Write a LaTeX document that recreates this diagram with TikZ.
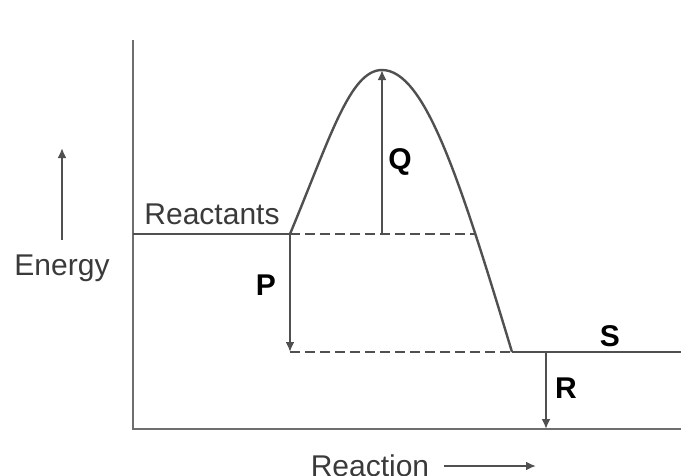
\documentclass[tikz,border=0pt]{standalone}
\usepackage{fontspec}
\setmainfont{Liberation Sans}
\usepackage{xcolor}
\usetikzlibrary{positioning,arrows.meta}
\definecolor{axisgray}{HTML}{6E6E6E}
\definecolor{linegray}{HTML}{505050}
\definecolor{textgray}{HTML}{3A3A3A}

\begin{document}
\begin{tikzpicture}[
  x=1pt, y=-1pt,
  axis/.style={draw=axisgray, line width=2.6pt},
  level/.style={draw=linegray, line width=2.4pt},
  guide/.style={draw=linegray, line width=2.4pt, dash pattern=on 10pt off 5pt},
  gap/.style={draw=linegray, line width=2pt, -{Latex[length=10pt,width=9pt]}},
  lbl/.style={text=textgray, font=\fontsize{30}{36}\selectfont, inner sep=0pt},
  tag/.style={text=black, font=\fontsize{30}{36}\selectfont\bfseries, inner sep=0pt}
]
\useasboundingbox (0,0) rectangle (681,475);
% axes
\coordinate (top) at (133,40);
\coordinate (origin) at (133,429);
\coordinate (right) at (681,429);
\path[axis] (top) -- (origin) -- (right);
% energy levels and curve
\coordinate (react0) at (133,234);
\coordinate (react1) at (290,234);
\coordinate (peak) at (382,70);
\coordinate (peakbase) at (382,234);
\coordinate (cross) at (475,234);
\coordinate (prod0) at (512,352);
\coordinate (prod1) at (681,352);
\coordinate (pfoot) at (290,352);
\coordinate (rtop) at (546,352);
\coordinate (rfoot) at (546,429);
\path[level] (react0) -- (react1);
\path[level] (react1) .. controls (330,138) and (350,70) .. (peak)
  .. controls (425,70) and (460,180) .. (prod0);
\path[level] (prod0) -- (prod1);
\path[guide] (react1) -- (cross);
\path[guide] (pfoot) -- (prod0);
% arrows
\path[gap] (peakbase) -- (peak);
\path[gap] (react1) -- (pfoot);
\path[gap] (rtop) -- (rfoot);
% labels
\node[lbl] (reactants) at (212,214) {Reactants};
\node[lbl] (energy) at (62,268) {Energy};
\node[lbl] (reaction) at (370,466) {Reaction};
\node[tag] (q) at (400,162) {Q};
\node[tag] (p) at (266,285) {P};
\node[tag] (s) at (610,336) {S};
\node[tag] (r) at (566,388) {R};
\coordinate (e0) at (62,240);
\coordinate (e1) at (62,148);
\path[gap] (e0) -- (e1);
\coordinate (x0) at (444,466);
\coordinate (x1) at (536,466);
\path[gap] (x0) -- (x1);
\end{tikzpicture}
\end{document}
